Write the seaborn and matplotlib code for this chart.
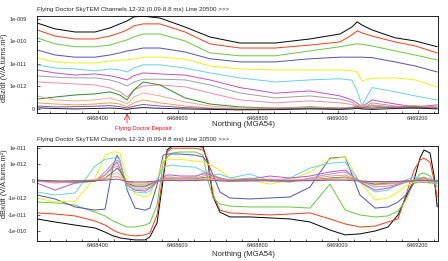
import numpy as np
import pandas as pd
import matplotlib
matplotlib.use("Agg")
import matplotlib.pyplot as plt
from matplotlib.ticker import FixedLocator, MultipleLocator
import seaborn as sns

# --- Data (values in units of 1e-12 V/A.turns.m^2) ---
top_northing = [6468248, 6468293, 6468343, 6468393, 6468430, 6468455, 6468473, 6468490,
                6468513, 6468555, 6468618, 6468680, 6468755, 6468843, 6468930, 6469005,
                6469035, 6469048, 6469060, 6469085, 6469143, 6469193, 6469248]

bz_ch12 = [661, 363, 263, 263, 398, 603, 813, 1230, 1330, 1100, 437, 158, 85, 85, 129, 214, 437, 741, 537, 324, 145, 105, 58]
bz_ch13 = [324, 174, 129, 129, 174, 240, 324, 490, 603, 603, 263, 78, 51, 51, 69, 95, 195, 295, 240, 174, 95, 63, 31]
bz_ch14 = [145, 78, 58, 58, 69, 95, 117, 158, 214, 214, 105, 31, 23, 23, 38, 58, 72, 78, 75, 63, 38, 25, 15]
bz_ch15 = [42, 25, 20, 20, 25, 31, 38, 42, 51, 51, 34, 17, 12.3, 12.3, 17, 20, 20, 20, 20, 19, 12.3, 8.1, 4.4]
bz_ch16 = [18.6, 12.3, 11, 11, 13.5, 15, 15, 16.6, 20, 20, 16.6, 8.1, 6, 5.4, 5.4, 5.4, 5.0, 4.4, 1.8, 2.3, 2.4, 1.95, 0.98]
bz_ch17 = [9.1, 6.6, 6, 4.9, 6, 5.4, 4.4, 6.6, 9.1, 9.1, 6.6, 4, 2.4, 1.58, 1.95, 2.2, 1.9, 0.8, 0.15, 0.95, 0.76, 0.58, 0.4]
bz_ch18 = [5.4, 4, 3.2, 3.6, 3, 2.4, 1.95, 3, 4, 3.6, 3.2, 1.95, 0.95, 0.7, 0.8, 0.58, 0.4, 0.25, 0.1, 0.4, 0.22, 0.09, 0.18]
bz_ch19 = [2.95, 2.6, 2.4, 2.4, 1.95, 1.45, 1.05, 1.58, 2.1, 2.1, 1.95, 1.17, 0.71, 0.49, 0.58, 0.44, 0.3, 0.13, 0.05, 0.27, 0.13, 0.04, 0.13]
bz_ch20 = [1.58, 1.45, 1.29, 1.17, 0.93, 0.76, 0.53, 0.84, 1.05, 1.17, 0.98, 0.71, 0.4, 0.27, 0.36, 0.27, 0.2, 0.09, 0.05, 0.18, 0.09, 0.04, 0.09]
bz_ch21 = [0.44, 0.53, 0.62, 0.67, 0.76, 0.62, 0.4, 0.84, 1.58, 1.17, 0.49, 0.22, 0.09, 0.04, 0.09, 0.04, 0.06, 0.04, 0.04, 0.13, 0.04, 0.09, 0.04]
bz_ch22 = [0.58, 0.4, 0.36, 0.4, 0.49, 0.36, 0.22, 0.53, 0.71, 0.58, 0.31, 0.13, 0.04, 0.04, 0.06, 0.04, 0.05, 0.1, 0.2, 0.1, 0.05, 0.12, 0.05]
bz_ch23 = [0.27, 0.22, 0.18, 0.22, 0.27, 0.22, 0.09, 0.27, 0.4, 0.27, 0.13, 0.04, 0.0, 0.02, 0.05, 0.02, 0.08, 0.15, 0.1, 0.05, 0.1, 0.15, 0.05]
bz_ch24 = [0.13, 0.09, 0.1, 0.12, 0.15, 0.1, 0.04, 0.12, 0.2, 0.13, 0.06, 0.02, -0.02, 0.0, 0.03, 0.0, 0.05, 0.1, 0.05, 0.03, 0.08, 0.1, 0.03]
bz_ch25 = [0.05, 0.02, 0.0, 0.02, 0.04, 0.02, -0.02, 0.03, 0.06, 0.03, 0.0, -0.02, -0.04, -0.03, 0.0, -0.02, 0.0, 0.03, 0.0, -0.02, 0.02, 0.04, 0.0]

bot_northing = [6468248, 6468293, 6468343, 6468393, 6468418, 6468438, 6468448, 6468455,
                6468473, 6468493, 6468518, 6468530, 6468548, 6468563, 6468573, 6468585,
                6468605, 6468643, 6468663, 6468675, 6468688, 6468705, 6468730, 6468780,
                6468830, 6468880, 6468930, 6468980, 6469018, 6469055, 6469093, 6469125,
                6469150, 6469170, 6469190, 6469205, 6469215, 6469230, 6469240, 6469248]

bx_ch12 = [-18.2, -27.5, -42, -63, -110, -186, -214, -245, -282, -324, -324, -214, -31.6, 0.06, 7.1, 12, 12, 12, 10.5, 1.17,
           -0.95, -7.1, -13.8, -13.8, -15.8, -18.2, -27.5, -83, -162, -141, -95, -55, -10.5, -0.95, 0.06, 2.34, 7.1, 4.7, 0.36, -3.5]
bx_ch13 = [-7.9, -9.2, -12, -24, -42, -83, -110, -126, -162, -186, -162, -126, -10.5, 0.36, 5.4, 9.1, 9.1, 9.1, 7.1, 1.78,
           -0.83, -5.4, -7.9, -9.2, -10.5, -9.2, -7.9, -18.2, -36, -55, -48, -27.5, -18.2, -0.83, 0.65, 1.78, 2.34, 1.35, 0.06, -0.95]
bx_ch14 = [-1.78, -2.0, -2.7, -7.1, -12, -24, -30, -36, -55, -55, -42, -32, -2.7, 1.17, 2.7, 4.7, 5.4, 5.4, 3.5, 0.06,
           -1.02, -2.34, -3.1, -3.5, -3.5, -3.5, -4.1, -0.18, -5.4, -10.5, -13.8, -12, -6.2, -1.35, 0.0, 0.42, 0.48, 0.3, -0.06, -0.36]
bx_ch15 = [-0.83, -1.17, -3.5, -5.4, -4.7, 0.89, 3.5, 1.78, -0.54, -4.1, -5.4, -4.1, -0.24, 3.5, 4.1, 4.1, 4.1, 3.5, 2.7, 1.17,
           0.36, -0.65, -1.02, -1.17, -1.02, -0.95, -0.36, 2.34, 2.7, -0.83, -4.1, -3.5, -1.78, -0.83, -0.12, -0.06, -0.06, -0.12, -0.12, -0.12]
bx_ch16 = [-1.02, -1.78, -1.55, 0.18, 3.5, 5.4, 5.4, 4.7, 0.06, -0.77, -0.95, -0.83, 0.06, 1.78, 2.0, 2.0, 2.0, 1.55, 1.35, 1.02,
           0.89, 0.65, 0.18, 0.06, -0.18, 0.06, 0.54, 2.0, 2.7, -0.06, -1.35, -1.02, -0.65, -0.3, -0.06, -0.06, 0.0, -0.18, -0.06, 0.0]
bx_ch17 = [-0.65, -0.83, -0.71, 0.89, 2.0, 2.34, 2.7, 1.78, -0.42, -0.65, -0.71, -0.6, 0.06, 0.83, 0.89, 0.95, 0.89, 0.83, 0.6, 0.42,
           0.36, 0.42, 0.18, 0.42, 0.0, 0.18, 0.77, 1.17, 1.35, -0.06, -0.65, -0.54, -0.18, 0.06, 0.24, 0.18, 0.06, -0.06, -0.12, -0.18]
bx_ch18 = [-0.12, -0.54, -0.12, 0.0, 0.36, 0.89, 1.35, 0.77, -0.24, -0.54, -0.6, -0.42, -0.06, 0.24, 0.36, 0.36, 0.3, 0.3, 0.42, 0.42,
           0.3, 0.18, 0.06, 0.12, 0.3, 0.18, 0.3, 0.54, 0.65, -0.06, -0.54, -0.42, -0.24, -0.06, 0.0, 0.12, 0.18, 0.06, 0.0, 0.06]
bx_ch19 = [0.06, -0.06, -0.12, 0.0, 0.54, 1.17, 1.78, 1.17, -0.3, -0.48, -0.48, -0.36, 0.0, 0.18, 0.24, 0.24, 0.18, 0.24, 0.48, 0.54,
           0.36, 0.18, 0.06, 0.18, 0.0, -0.06, 0.18, 0.42, 0.54, 0.0, -0.36, -0.3, -0.18, -0.06, 0.06, 0.18, 0.24, 0.12, 0.0, 0.0]
bx_ch20 = [0.0, -0.12, 0.0, 0.06, 0.36, 0.77, 0.89, 0.65, -0.18, -0.36, -0.36, -0.24, 0.0, 0.12, 0.18, 0.18, 0.18, 0.18, 0.3, 0.36,
           0.24, 0.12, 0.0, 0.06, 0.12, 0.06, 0.12, 0.3, 0.36, 0.0, -0.24, -0.18, -0.12, 0.0, 0.06, 0.12, 0.18, 0.06, 0.0, 0.0]
bx_ch21 = [0.06, 0.0, -0.06, 0.0, 0.18, 0.54, 0.77, 0.6, -0.12, -0.3, -0.3, -0.18, 0.0, 0.06, 0.12, 0.12, 0.1, 0.12, 0.2, 0.24,
           0.15, 0.06, 0.0, 0.06, 0.06, 0.0, 0.06, 0.18, 0.24, 0.0, -0.18, -0.12, -0.06, 0.0, 0.03, 0.06, 0.1, 0.03, 0.0, 0.0]
bx_ch22 = [0.03, -0.06, 0.03, 0.06, 0.2, 0.4, 0.5, 0.36, -0.1, -0.2, -0.2, -0.12, 0.0, 0.06, 0.1, 0.1, 0.1, 0.1, 0.15, 0.2,
           0.12, 0.06, 0.0, 0.03, 0.06, 0.03, 0.06, 0.15, 0.2, 0.0, -0.12, -0.1, -0.06, 0.0, 0.03, 0.06, 0.1, 0.03, 0.0, 0.0]
bx_ch23 = [0.0, -0.03, 0.0, 0.03, 0.1, 0.24, 0.3, 0.2, -0.06, -0.12, -0.12, -0.06, 0.0, 0.03, 0.06, 0.06, 0.05, 0.06, 0.1, 0.12,
           0.06, 0.03, 0.0, 0.02, 0.03, 0.02, 0.03, 0.1, 0.12, 0.0, -0.06, -0.06, -0.03, 0.0, 0.02, 0.03, 0.06, 0.02, 0.0, 0.0]
bx_ch24 = [0.02, 0.0, 0.01, 0.02, 0.05, 0.1, 0.12, 0.08, -0.03, -0.05, -0.05, -0.03, 0.0, 0.02, 0.03, 0.03, 0.02, 0.03, 0.05, 0.05,
           0.03, 0.01, 0.0, 0.01, 0.02, 0.01, 0.02, 0.05, 0.05, 0.0, -0.03, -0.03, -0.02, 0.0, 0.01, 0.02, 0.03, 0.01, 0.0, 0.0]

line_colors = ["#000000", "#f03c14", "#64c83c", "#5050b4", "#f0f014", "#64d2e6", "#c050c0",
               "#a0a0a0", "#f08ca0", "#288c28", "#f0a898", "#f0a040", "#8050c0", "#202020"]

top_series = [bz_ch12, bz_ch13, bz_ch14, bz_ch15, bz_ch16, bz_ch17, bz_ch18,
              bz_ch19, bz_ch20, bz_ch21, bz_ch22, bz_ch23, bz_ch24, bz_ch25]
bot_series = [bx_ch12, bx_ch13, bx_ch14, bx_ch15, bx_ch16, bx_ch17, bx_ch18,
              bx_ch19, bx_ch20, bx_ch21, bx_ch22, bx_ch23, bx_ch24]

title = "Flying Doctor SkyTEM Channels 12-32 (0.09-8.8 ms) Line 20500 >>>"


def to_long(northing, series):
    rows = []
    for i, vals in enumerate(series):
        for n, v in zip(northing, vals):
            rows.append({"northing": n, "value": v * 1e-12, "channel": f"ch{12 + i}"})
    return pd.DataFrame(rows)


top_df = to_long(top_northing, top_series)
bot_df = to_long(bot_northing, bot_series)

# --- Style ---
sns.set_style("white")
plt.rcParams["font.family"] = ["Liberation Sans", "DejaVu Sans"]

fig = plt.figure(figsize=(4.48, 2.61), dpi=100)
ax1 = fig.add_axes([37 / 448, 1 - 113 / 261, 401 / 448, 97 / 261])
ax2 = fig.add_axes([37 / 448, 1 - 241 / 261, 401 / 448, 95 / 261])


def style_axis(ax, df, n, ylim, yticks, ylabels, ylabel, label_y, tick_pad, xlabel_y):
    names = [f"ch{12 + i}" for i in range(n)]
    sns.lineplot(data=df, x="northing", y="value", hue="channel", hue_order=names,
                 palette=line_colors[:n], estimator=None, sort=False, lw=0.7,
                 legend=False, ax=ax)
    ax.set_yscale("symlog", linthresh=1e-12, linscale=0.9)
    ax.set_xlim(6468248, 6469250)
    ax.set_ylim(*ylim)
    ax.yaxis.set_major_locator(FixedLocator(yticks))
    ax.yaxis.set_minor_locator(FixedLocator([]))
    ax.set_yticklabels(ylabels)
    ax.xaxis.set_major_locator(MultipleLocator(200))
    ax.xaxis.set_minor_locator(MultipleLocator(40))
    ax.xaxis.set_major_formatter(matplotlib.ticker.FuncFormatter(lambda v, p: f"{v:.0f}"))
    ax.tick_params(axis="both", which="major", direction="in", length=2.5, width=0.5,
                   labelsize=4.0, pad=tick_pad)
    ax.tick_params(axis="x", which="minor", direction="in", length=1.5, width=0.5)
    ax.tick_params(axis="x", which="both", bottom=True)
    ax.tick_params(axis="y", which="both", left=True)
    for lab, tick in zip(ylabels, ax.yaxis.get_major_ticks()):
        tick.set_pad(1.5 if lab == "0" else 7.2)
    for sp in ax.spines.values():
        sp.set_linewidth(0.6)
        sp.set_color("black")
    ax.set_ylabel(ylabel, fontsize=5.3)
    ax.yaxis.set_label_coords(-0.0735, label_y)
    ax.set_xlabel("Northing (MGA54)", fontsize=5.6)
    ax.xaxis.set_label_coords(0.515, xlabel_y)
    ax.text(0.0, 1.04, title, transform=ax.transAxes, fontsize=4.5, ha="left", va="bottom")


style_axis(ax1, top_df, len(top_series), (-0.18e-12, 1.35e-9),
           [1e-9, 1e-10, 1e-11, 1e-12, 0],
           ["1e-009", "1e-010", "1e-011", "1e-012", "0"],
           "dBz/dt (V/A.turns.m²)", 0.47, 2.0, -0.08)
style_axis(ax2, bot_df, len(bot_series), (-375e-12, 12.3e-12),
           [1e-11, 1e-12, 0, -1e-12, -1e-11, -1e-10],
           ["1e-011", "1e-012", "0", "-1e-012", "-1e-011", "-1e-010"],
           "dBx/dt (V/A.turns.m²)", 0.6, 1.5, -0.1)

# --- Deposit marker ---
ax1.annotate("", xy=(6468473, -0.005), xytext=(6468473, -0.105),
             xycoords=ax1.get_xaxis_transform(), textcoords=ax1.get_xaxis_transform(),
             arrowprops=dict(arrowstyle="->", color="red", lw=0.5, shrinkA=0, shrinkB=0),
             annotation_clip=False)
ax1.text(6468513, -0.155, "Flying Doctor Deposit", transform=ax1.get_xaxis_transform(),
         color="red", fontsize=4.2, ha="center", va="center")

fig.savefig("out.png", dpi=100)
